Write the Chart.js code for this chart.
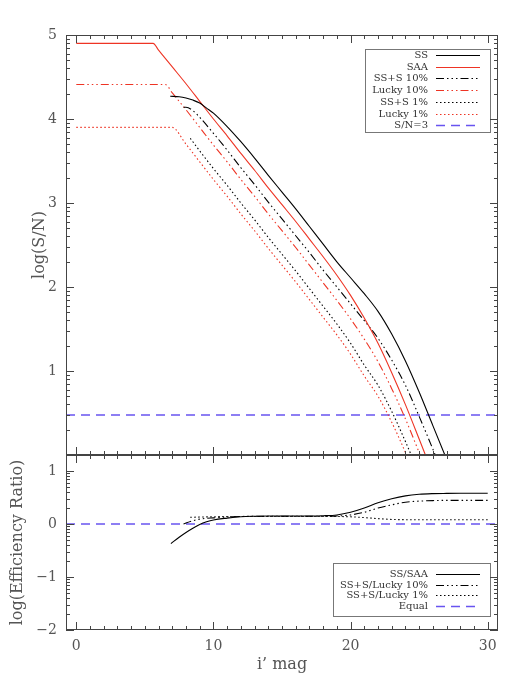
<!DOCTYPE html>
<html>
<head>
<meta charset="utf-8">
<script src="https://cdn.jsdelivr.net/npm/chart.js@4.4.1/dist/chart.umd.min.js"></script>
<style>
  html, body { margin: 0; padding: 0; background: #fff; }
  #wrap { position: relative; width: 525px; height: 700px; }
  canvas { position: absolute; left: 0; }
  #top { top: 0; }
  #bottom { top: 440px; }
</style>
</head>
<body>
<div id="wrap">
  <canvas id="top" width="525" height="460"></canvas>
  <canvas id="bottom" width="525" height="260"></canvas>
</div>
<script>
// ---- ticks ----
const xTicks = [0, 10, 20, 30];
const snTicks = [1, 2, 3, 4, 5];
const effTicks = [-2, -1, 0, 1];
const xRange = [-0.75, 30.75];

// ---- top panel: log(S/N) vs i' mag ----
const magSS = [6.85, 7.5, 8, 8.5, 9, 9.5, 10, 11, 12, 13, 14, 15, 16, 17, 18, 19, 20, 21, 22, 23, 24, 25, 26, 27];
const snSS = [4.27, 4.265, 4.25, 4.225, 4.19, 4.13, 4.07, 3.91, 3.73, 3.535, 3.33, 3.13, 2.93, 2.72, 2.51, 2.30, 2.11, 1.92, 1.71, 1.44, 1.12, 0.75, 0.35, -0.05];

const magSAA = [0, 5.6, 6, 7, 8, 9, 10, 11, 12, 13, 14, 15, 16, 17, 18, 19, 20, 21, 22, 23, 24, 25, 25.6];
const snSAA = [4.9, 4.9, 4.82, 4.62, 4.42, 4.21, 4.0, 3.8, 3.59, 3.39, 3.18, 2.98, 2.78, 2.57, 2.36, 2.14, 1.9, 1.63, 1.33, 0.98, 0.6, 0.19, -0.06];

const magSS10 = [7.82, 8, 8.5, 9, 10, 11, 12, 13, 14, 15, 16, 17, 18, 19, 20, 21, 22, 23, 24, 25, 26, 26.3];
const snSS10 = [4.14, 4.14, 4.10, 4.02, 3.83, 3.63, 3.42, 3.22, 3.01, 2.81, 2.61, 2.41, 2.20, 2.0, 1.80, 1.60, 1.39, 1.13, 0.83, 0.46, 0.07, -0.05];

const magLucky10 = [0, 6.5, 7, 8, 9, 10, 11, 12, 13, 14, 15, 16, 17, 18, 19, 20, 21, 22, 23, 24, 25, 25.2];
const snLucky10 = [4.41, 4.41, 4.31, 4.11, 3.90, 3.69, 3.49, 3.28, 3.08, 2.87, 2.67, 2.47, 2.26, 2.05, 1.84, 1.62, 1.38, 1.11, 0.79, 0.43, 0.03, -0.05];

const magSS1 = [8.31, 9, 10, 11, 12, 13, 14, 15, 16, 17, 18, 19, 20, 21, 22, 23, 24, 24.5];
const snSS1 = [3.77, 3.62, 3.41, 3.21, 3.0, 2.80, 2.59, 2.39, 2.19, 1.98, 1.77, 1.56, 1.33, 1.07, 0.83, 0.52, 0.16, -0.03];

const magLucky1 = [0, 6.98, 8, 9, 10, 11, 12, 13, 14, 15, 16, 17, 18, 19, 20, 21, 22, 23, 24, 24.2];
const snLucky1 = [3.9, 3.9, 3.70, 3.49, 3.28, 3.08, 2.87, 2.67, 2.46, 2.26, 2.06, 1.85, 1.64, 1.43, 1.20, 0.94, 0.70, 0.39, 0.03, -0.05];

const snLimit = [0.477, 0.477];

// ---- bottom panel: log(Efficiency Ratio) ----
const magRatioSS = [6.9, 7.5, 8, 8.5, 9, 9.5, 10, 11, 12, 13, 14, 15, 16, 17, 18, 19, 20, 21, 22, 23, 24, 25, 26, 27, 28, 29, 30];
const ratioSS = [-0.37, -0.25, -0.16, -0.08, -0.01, 0.04, 0.075, 0.11, 0.135, 0.145, 0.15, 0.15, 0.15, 0.15, 0.155, 0.17, 0.22, 0.30, 0.40, 0.475, 0.53, 0.56, 0.572, 0.576, 0.578, 0.578, 0.578];

const magRatio10 = [7.82, 8.5, 9, 10, 11, 12, 13, 14, 15, 16, 17, 18, 19, 20, 21, 22, 23, 24, 25, 26, 27, 28, 29, 30];
const ratio10 = [0.0, 0.06, 0.09, 0.115, 0.13, 0.14, 0.145, 0.145, 0.145, 0.145, 0.145, 0.145, 0.15, 0.17, 0.22, 0.30, 0.36, 0.41, 0.43, 0.44, 0.445, 0.445, 0.445, 0.445];

const magRatio1 = [8.31, 9, 10, 11, 12, 13, 14, 15, 16, 17, 18, 19, 20, 21, 22, 23, 24, 25, 26, 27, 28, 29, 30];
const ratio1 = [0.125, 0.13, 0.135, 0.14, 0.14, 0.14, 0.14, 0.14, 0.14, 0.14, 0.14, 0.14, 0.135, 0.12, 0.10, 0.085, 0.08, 0.078, 0.078, 0.078, 0.078, 0.078, 0.078];

const equalLine = [0, 0];

// ---- styles ----
const RED = 'rgb(238,52,36)';
const BLUE = 'rgb(104,84,240)';
const INK = '#555';
const TICK = '#444';
const FONT = '"DejaVu Serif", "Liberation Serif", serif';
const DASH_DOT3 = [8, 3, 1.5, 3, 1.5, 3, 1.5, 3];
const DOT = [1.5, 2.5];
const DASH = [9, 6];

const pts = (xs, ys) => xs.map((x, i) => ({ x, y: ys[i] }));

function series(label, xs, ys, color, dash, width) {
    return {
        label,
        data: pts(xs, ys),
        borderColor: color,
        borderDash: dash || [],
        borderWidth: width || 1.1,
        pointRadius: 0,
        fill: false,
        cubicInterpolationMode: 'monotone'
    };
}

const logMinors = [2, 3, 4, 5, 6, 7, 8, 9].map(k => Math.log10(k));

// frame with inward ticks on all four sides (IDL style), drawn as 1px rects
const boxTicks = {
    id: 'boxTicks',
    afterDraw(chart) {
        const { ctx, chartArea: a } = chart;
        const xs = chart.scales.x, ys = chart.scales.y;
        const L = Math.round(a.left), R = Math.round(a.right) - 1;
        const T = Math.round(a.top), B = Math.round(a.bottom) - 1;
        ctx.save();
        ctx.fillStyle = TICK;
        ctx.fillRect(L, T, R - L + 1, 1);
        ctx.fillRect(L, B, R - L + 1, 1);
        ctx.fillRect(L, T, 1, B - T + 1);
        ctx.fillRect(R, T, 1, B - T + 1);
        for (let v = Math.ceil(xs.min); v <= Math.floor(xs.max); v++) {
            const p = Math.round(xs.getPixelForValue(v));
            const len = v % 10 === 0 ? 8 : 4;
            ctx.fillRect(p, T, 1, len);
            ctx.fillRect(p, B - len + 1, 1, len);
        }
        for (let n = Math.floor(ys.min); n <= Math.ceil(ys.max); n++) {
            [0].concat(logMinors).forEach((m, i) => {
                const v = n + m;
                if (v < ys.min - 1e-9 || v > ys.max + 1e-9) return;
                const py = Math.round(ys.getPixelForValue(v));
                const len = i === 0 ? 8 : 4;
                ctx.fillRect(L, py, len, 1);
                ctx.fillRect(R - len + 1, py, len, 1);
            });
        }
        ctx.restore();
    }
};

// framed legend, text right-aligned with a line sample on the right
const boxLegend = {
    id: 'boxLegend',
    afterDatasetsDraw(chart, args, opts) {
        const { ctx, chartArea: a } = chart;
        const items = chart.data.datasets;
        ctx.save();
        ctx.font = '10px ' + FONT;
        const textRight = a.right - 70;
        const maxW = Math.max(...items.map(d => ctx.measureText(d.label).width));
        const top = Math.round(a.top + opts.top) + 0.5;
        const bottom = Math.round(a.top + opts.bottom) + 0.5;
        const boxL = Math.round(textRight - maxW - 7) + 0.5;
        const boxR = Math.round(a.right - 8) + 0.5;
        ctx.fillStyle = '#fff';
        ctx.fillRect(boxL, top, boxR - boxL, bottom - top);
        ctx.strokeStyle = '#777';
        ctx.lineWidth = 1;
        ctx.strokeRect(boxL, top, boxR - boxL, bottom - top);
        items.forEach((d, i) => {
            const y = Math.round(a.top + opts.first + i * opts.rowH) + 0.5;
            ctx.fillStyle = '#333';
            ctx.textAlign = 'right';
            ctx.textBaseline = 'middle';
            ctx.fillText(d.label, textRight, y);
            ctx.strokeStyle = d.borderColor;
            ctx.lineWidth = d.borderWidth;
            ctx.setLineDash(d.borderDash);
            ctx.beginPath();
            ctx.moveTo(textRight + 8, y);
            ctx.lineTo(textRight + 52, y);
            ctx.stroke();
            ctx.setLineDash([]);
        });
        ctx.restore();
    }
};

const fmt = v => (v < 0 ? '\u2212' + Math.abs(v) : String(v));

function yAxis(min, max, tickVals, title, titlePad) {
    return {
        type: 'linear',
        min, max,
        afterBuildTicks: s => { s.ticks = tickVals.map(v => ({ value: v })); },
        afterFit: s => { s.width = 66; s.paddingTop = 0; s.paddingBottom = 0; },
        grid: { display: false, drawTicks: false },
        border: { display: false },
        ticks: { padding: 9, color: INK, font: { family: FONT, size: 14 }, callback: fmt, autoSkip: false },
        title: { display: true, text: title, color: INK, font: { family: FONT, size: 16 }, padding: { top: titlePad, bottom: 0 } }
    };
}

new Chart(document.getElementById('top'), {
    type: 'line',
    data: {
        datasets: [
            series('SS', magSS, snSS, '#000'),
            series('SAA', magSAA, snSAA, RED),
            series('SS+S 10%', magSS10, snSS10, '#000', DASH_DOT3),
            series('Lucky 10%', magLucky10, snLucky10, RED, DASH_DOT3),
            series('SS+S 1%', magSS1, snSS1, '#000', DOT),
            series('Lucky 1%', magLucky1, snLucky1, RED, DOT),
            series('S/N=3', xRange, snLimit, BLUE, DASH, 1.6)
        ]
    },
    options: {
        responsive: false,
        animation: false,
        layout: { padding: { left: 0, right: 27, top: 35, bottom: 5 } },
        plugins: { legend: { display: false }, tooltip: { enabled: false }, boxLegend: { top: 14, bottom: 97, first: 20, rowH: 11.7 } },
        scales: {
            x: { type: 'linear', min: xRange[0], max: xRange[1], display: false },
            y: yAxis(0, 5, snTicks, 'log(S/N)', 30)
        }
    },
    plugins: [boxTicks, boxLegend]
});

new Chart(document.getElementById('bottom'), {
    type: 'line',
    data: {
        datasets: [
            series('SS/SAA', magRatioSS, ratioSS, '#000'),
            series('SS+S/Lucky 10%', magRatio10, ratio10, '#000', DASH_DOT3),
            series('SS+S/Lucky 1%', magRatio1, ratio1, '#000', DOT),
            series('Equal', xRange, equalLine, BLUE, DASH, 1.6)
        ]
    },
    options: {
        responsive: false,
        animation: false,
        layout: { padding: { left: 0, right: 27, top: 15, bottom: 0 } },
        plugins: { legend: { display: false }, tooltip: { enabled: false }, boxLegend: { top: 108, bottom: 161, first: 119, rowH: 10.5 } },
        scales: {
            x: {
                type: 'linear',
                min: xRange[0], max: xRange[1],
                afterBuildTicks: s => { s.ticks = xTicks.map(v => ({ value: v })); },
                afterFit: s => { s.height = 70; s.paddingLeft = 0; s.paddingRight = 0; },
                grid: { display: false, drawTicks: false },
                border: { display: false },
                ticks: { padding: 8, color: INK, font: { family: FONT, size: 14 }, maxRotation: 0, autoSkip: false },
                title: { display: true, text: 'i\u2019 mag', color: INK, font: { family: FONT, size: 16 }, padding: { top: 0, bottom: 26 } }
            },
            y: yAxis(-2, 1.3, effTicks, 'log(Efficiency Ratio)', 8)
        }
    },
    plugins: [boxTicks, boxLegend]
});
</script>
</body>
</html>
